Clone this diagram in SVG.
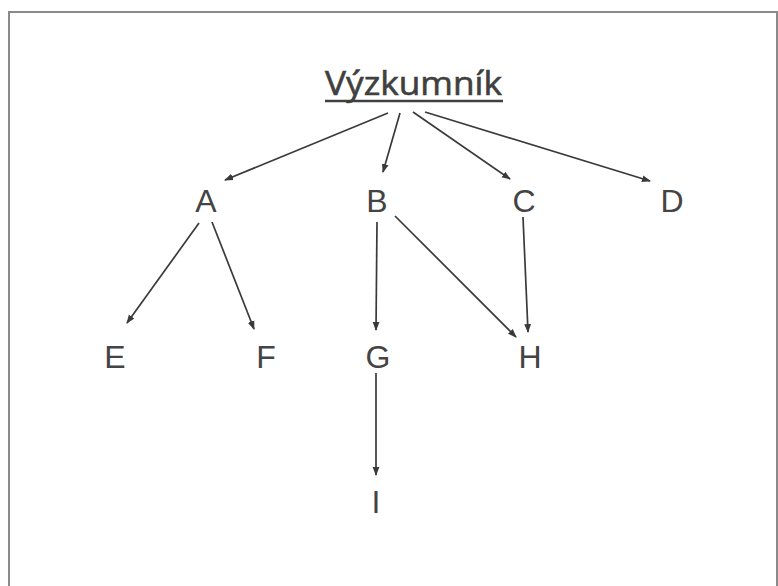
<svg xmlns="http://www.w3.org/2000/svg" width="778" height="586" viewBox="0 0 778 586">
<defs>
<marker id="ah" markerWidth="9" markerHeight="8" refX="8" refY="4" orient="auto" markerUnits="userSpaceOnUse">
<path d="M0,0.6 L9,4 L0,7.4 Z" fill="#3a3a3a"/>
</marker>
<style>
.lbl{font-family:"Liberation Sans",Arial,sans-serif;font-size:32px;fill:#444;text-anchor:middle}
.ttl{font-family:"Open Sans",Lato,sans-serif;font-size:33px;fill:#404040;stroke:#404040;stroke-width:0.6}
.edge{stroke:#3a3a3a;stroke-width:1.7;fill:none;marker-end:url(#ah)}
</style>
</defs>
<rect width="778" height="586" fill="#fff"/>
<path d="M9,600 L9,12 L777,12 L777,600" fill="none" stroke="#8a8a8a" stroke-width="2"/>
<g id="title">
<text class="ttl" x="325" y="95" textLength="177" lengthAdjust="spacingAndGlyphs">Výzkumník</text>
<line x1="325" y1="101" x2="503" y2="101" stroke="#404040" stroke-width="2.4"/>
</g>
<g id="connectors">
<line class="edge" x1="388" y1="113" x2="225" y2="180"/>
<line class="edge" x1="400" y1="113" x2="383" y2="172"/>
<line class="edge" x1="413" y1="112" x2="510" y2="179"/>
<line class="edge" x1="425" y1="112" x2="650" y2="181"/>
<line class="edge" x1="199" y1="223" x2="127" y2="323"/>
<line class="edge" x1="212" y1="222" x2="254" y2="329"/>
<line class="edge" x1="377" y1="222" x2="376" y2="330"/>
<line class="edge" x1="395" y1="216" x2="516" y2="337"/>
<line class="edge" x1="523" y1="217" x2="528" y2="332"/>
<line class="edge" x1="376" y1="373" x2="376" y2="475"/>
</g>
<g id="A"><text class="lbl" x="206" y="212">A</text></g>
<g id="B"><text class="lbl" x="377" y="212">B</text></g>
<g id="C"><text class="lbl" x="524" y="212">C</text></g>
<g id="D"><text class="lbl" x="672" y="212">D</text></g>
<g id="E"><text class="lbl" x="115" y="368">E</text></g>
<g id="F"><text class="lbl" x="266" y="368">F</text></g>
<g id="G"><text class="lbl" x="378" y="368">G</text></g>
<g id="H"><text class="lbl" x="530" y="368">H</text></g>
<g id="I"><text class="lbl" x="376" y="513">I</text></g>
</svg>
